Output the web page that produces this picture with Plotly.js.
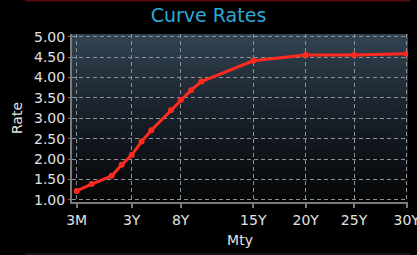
<!DOCTYPE html>
<html>
<head>
<meta charset="utf-8">
<script src="https://cdn.plot.ly/plotly-3.0.1.min.js"></script>
<style>
html,body{margin:0;padding:0;background:#000;}
#chart{width:417px;height:255px;}
</style>
</head>
<body>
<div id="chart"></div>
<script>
// Data
const maturityYears = [0.25, 1, 2, 2.5, 3, 4, 5, 7, 8, 9, 10, 15, 20, 25, 30];
const rates = [1.22, 1.39, 1.59, 1.86, 2.10, 2.43, 2.71, 3.20, 3.45, 3.69, 3.90, 4.41, 4.55, 4.55, 4.58];
const tickYears = [0.25, 3, 8, 15, 20, 25, 30];
const tickLabels = ['3M', '3Y', '8Y', '15Y', '20Y', '25Y', '30Y'];

// Axis scale of the original (non-linear maturity axis): piecewise anchors
const anchorPos = [0, 55, 104, 176.6, 229, 277.3, 330];
function toAxis(y) {
  for (let i = 0; i < tickYears.length - 1; i++) {
    const a = tickYears[i], b = tickYears[i + 1];
    if (y <= b || i === tickYears.length - 2) {
      const f = (y - a) / (b - a);
      return anchorPos[i] + f * (anchorPos[i + 1] - anchorPos[i]);
    }
  }
}
const xs = maturityYears.map(toAxis);
const tickvals = tickYears.map(toAxis);

// gradient background image
const cv = document.createElement('canvas');
cv.width = 10; cv.height = 200;
const ctx = cv.getContext('2d');
const g = ctx.createLinearGradient(0, 0, 0, 200);
g.addColorStop(0, '#324452');
g.addColorStop(0.45, '#1a222c');
g.addColorStop(1, '#050505');
ctx.fillStyle = g;
ctx.fillRect(0, 0, 10, 200);
const bgURL = cv.toDataURL();

const tickFont = {family: 'DejaVu Sans', size: 14, color: '#e2e2e2'};
const plotH = 168;

Plotly.newPlot('chart', [{
  x: xs, y: rates, type: 'scatter', mode: 'lines+markers',
  line: {color: '#ff2a1f', width: 3},
  marker: {color: '#ff2a1f', size: 6},
  hoverinfo: 'skip'
}], {
  width: 417, height: 255,
  margin: {l: 72, r: 9, t: 34, b: 53},
  paper_bgcolor: '#000',
  plot_bgcolor: 'rgba(0,0,0,0)',
  showlegend: false,
  title: {text: 'Curve Rates', font: {family: 'DejaVu Sans', size: 19, color: '#2fa9d6'}, x: 0.5, xanchor: 'center', y: 0.965, yanchor: 'top'},
  images: [{source: bgURL, xref: 'paper', yref: 'paper', x: 0, y: 1, sizex: 1, sizey: 1, sizing: 'stretch', layer: 'below'}],
  shapes: [
    {type: 'line', xref: 'paper', yref: 'paper', x0: -0.14, x1: 1.006, y0: 1 + 33.5 / plotH, y1: 1 + 33.5 / plotH, line: {color: '#5a0a0a', width: 2}},
    {type: 'line', xref: 'paper', yref: 'paper', x0: -0.14, x1: 1.006, y0: -52 / plotH, y1: -52 / plotH, line: {color: '#2a2a2a', width: 1}}
  ],
  xaxis: {
    range: [-4.7, 331.3], tickmode: 'array', tickvals: tickvals, ticktext: tickLabels,
    tickfont: tickFont, ticklabeloverflow: 'allow',
    showgrid: true, gridcolor: '#8a9299', griddash: '4px,3px', gridwidth: 1,
    showline: true, linecolor: '#7a7a7a', linewidth: 2, ticks: 'outside', ticklen: 4, tickcolor: '#7a7a7a', tickwidth: 2,
    zeroline: false, fixedrange: true,
    title: {text: 'Mty', font: {family: 'DejaVu Sans', size: 14, color: '#e2e2e2'}, standoff: 8}
  },
  yaxis: {
    range: [0.95, 5.065], tickvals: [1, 1.5, 2, 2.5, 3, 3.5, 4, 4.5, 5], tickformat: '.2f',
    tickfont: tickFont, showgrid: true, gridcolor: '#8a9299', griddash: '4px,3px', gridwidth: 1,
    showline: true, linecolor: '#7a7a7a', linewidth: 2, ticks: 'outside', ticklen: 2, tickcolor: '#7a7a7a', tickwidth: 1,
    zeroline: false, fixedrange: true,
    title: {text: 'Rate', font: {family: 'DejaVu Sans', size: 14, color: '#e2e2e2'}, standoff: 8}
  }
}, {displayModeBar: false, staticPlot: true});
</script>
</body>
</html>
